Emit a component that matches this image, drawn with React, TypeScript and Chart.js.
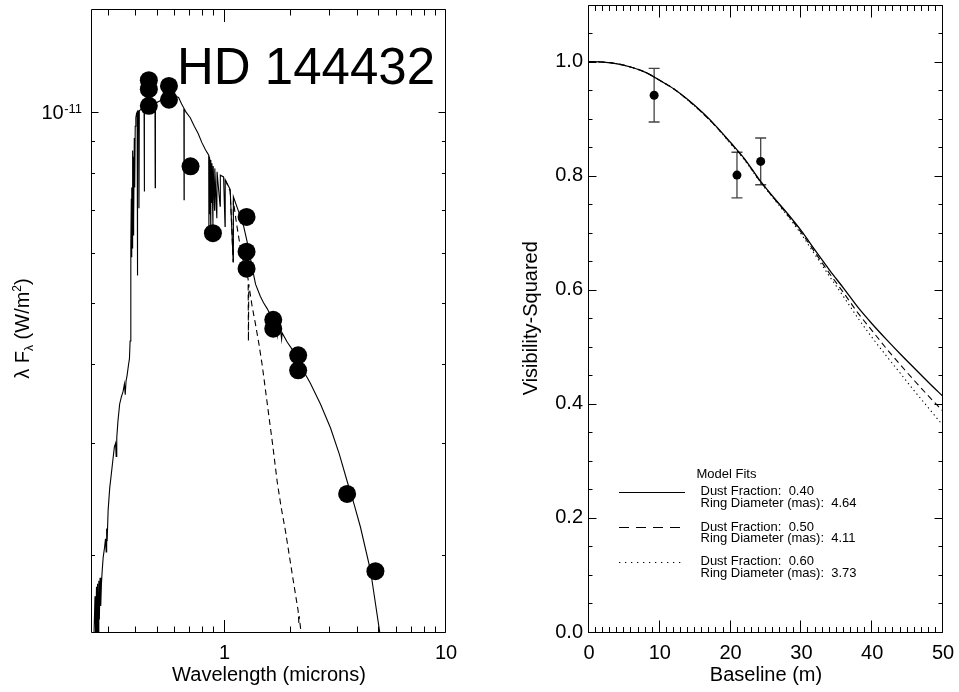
import React, { useEffect, useRef } from 'react';
import { Chart, registerables } from 'chart.js';

Chart.register(...registerables);

const FONT = "'Liberation Sans', Arial, Helvetica, sans-serif";

// ---------------- Left panel: SED of HD 144432 ----------------
const sedTitle = 'HD 144432';
const sedXTitle = 'Wavelength (microns)';

// photometry (microns, W/m^2)
const photWavelength = [0.455, 0.455, 0.455, 0.561, 0.561, 0.702, 0.886, 1.257, 1.257, 1.257, 1.659, 1.659, 2.15, 2.15, 3.577, 4.8];
const photFlux = [1.123e-11, 1.087e-11, 1.023e-11, 1.1e-11, 1.046e-11, 8.21e-12, 6.44e-12, 6.83e-12, 6.02e-12, 5.66e-12, 4.7e-12, 4.55e-12, 4.13e-12, 3.91e-12, 2.495e-12, 1.884e-12];

// total model SED (star + dust)
const modelWavelength = [
  0.256, 0.26, 0.262, 0.264, 0.2655, 0.267, 0.269, 0.2705, 0.272, 0.274, 0.276, 0.278, 0.28, 0.283, 0.287,
  0.29, 0.292, 0.2935, 0.295, 0.298, 0.303, 0.308, 0.313, 0.318, 0.322, 0.324, 0.326, 0.33, 0.336, 0.342,
  0.348, 0.353, 0.356, 0.359, 0.363, 0.368, 0.372, 0.3745, 0.3767, 0.378, 0.3792, 0.3803, 0.3816, 0.383,
  0.3845, 0.386, 0.3878, 0.3893, 0.3912, 0.393, 0.395, 0.3975, 0.4005, 0.403, 0.404, 0.4052, 0.409, 0.4107,
  0.4122, 0.425, 0.433, 0.434, 0.4352, 0.46, 0.485, 0.4861, 0.4873, 0.52, 0.56, 0.595, 0.62, 0.64, 0.655,
  0.6563, 0.6576, 0.67, 0.7, 0.73, 0.76, 0.79, 0.82, 0.84, 0.848, 0.8498, 0.8515, 0.8542, 0.856, 0.86,
  0.8662, 0.868, 0.875, 0.877, 0.8863, 0.8885, 0.9015, 0.9035, 0.9229, 0.925, 0.9546, 0.957, 0.99, 1.0049,
  1.007, 1.06, 1.0938, 1.096, 1.16, 1.22, 1.27, 1.2818, 1.284, 1.33, 1.38, 1.45, 1.5, 1.56, 1.61, 1.68, 1.7,
  1.71, 1.736, 1.745, 1.79, 1.81, 1.82, 1.92, 2.05, 2.15, 2.1661, 2.17, 2.35, 2.44, 2.71, 3.01, 3.3, 3.58,
  3.85, 4.11, 4.56, 5.02, 5.2,
];
const modelFlux = [
  1.4e-12, 1.72e-12, 1.45e-12, 1.78e-12, 1.46e-12, 1.8e-12, 1.5e-12, 1.82e-12, 1.58e-12, 1.84e-12, 1.66e-12, 1.8e-12, 1.88e-12, 1.98e-12, 2.05e-12,
  2.12e-12, 2.02e-12, 2.2e-12, 2.1e-12, 2.35e-12, 2.55e-12, 2.68e-12, 2.82e-12, 2.96e-12, 3.0e-12, 2.86e-12, 3.06e-12, 3.25e-12, 3.46e-12, 3.55e-12,
  3.62e-12, 3.72e-12, 3.58e-12, 3.76e-12, 3.84e-12, 3.98e-12, 4.08e-12, 4.35e-12, 5.0e-12, 6.2e-12, 7.3e-12, 5.9e-12, 7.6e-12, 6.1e-12,
  8.7e-12, 6.4e-12, 8.5e-12, 6.7e-12, 9.1e-12, 7.6e-12, 9.5e-12, 9.8e-12, 9.95e-12, 1.0e-11, 5.52e-12, 1.002e-11, 1.004e-11, 7.05e-12,
  1.006e-11, 1.012e-11, 1.015e-11, 7.49e-12, 1.016e-11, 1.025e-11, 1.032e-11, 7.6e-12, 1.033e-11, 1.045e-11, 1.055e-11, 1.06e-11, 1.055e-11, 1.03e-11, 1.015e-11,
  7.27e-12, 1.012e-11, 1.0e-11, 9.8e-12, 9.5e-12, 9.25e-12, 8.95e-12, 8.72e-12, 8.6e-12, 8.55e-12, 6.4e-12, 8.5e-12, 6.9e-12, 8.45e-12, 8.4e-12,
  6.3e-12, 8.35e-12, 7.2e-12, 8.3e-12, 6.6e-12, 8.22e-12, 7.0e-12, 8.15e-12, 6.8e-12, 8.05e-12, 7.1e-12, 7.95e-12, 7.9e-12, 6.6e-12,
  7.82e-12, 7.55e-12, 5.8e-12, 7.35e-12, 6.95e-12, 6.6e-12, 6.2e-12, 5.7e-12, 6.1e-12, 5.7e-12, 5.35e-12, 5.12e-12, 5.0e-12, 4.89e-12, 4.78e-12, 4.65e-12, 4.48e-12,
  4.62e-12, 4.45e-12, 4.58e-12, 4.52e-12, 4.38e-12, 4.48e-12, 4.33e-12, 4.19e-12, 4.03e-12, 3.92e-12, 4.01e-12, 3.82e-12, 3.73e-12, 3.46e-12, 3.17e-12, 2.88e-12, 2.61e-12,
  2.4e-12, 2.21e-12, 1.89e-12, 1.51e-12, 1.4e-12,
];

// stellar photosphere alone
const starWavelength = [1.007, 1.06, 1.0938, 1.096, 1.13, 1.18, 1.23, 1.278, 1.2818, 1.286, 1.33, 1.38, 1.43, 1.48, 1.584, 1.65, 1.728, 1.8, 1.884, 2.02, 2.15, 2.1661, 2.172, 2.214, 2.26];
const starFlux = [7.82e-12, 7.5e-12, 5.8e-12, 7.25e-12, 6.7e-12, 6.1e-12, 5.7e-12, 5.45e-12, 4.35e-12, 5.35e-12, 4.95e-12, 4.62e-12, 4.3e-12, 3.98e-12, 3.32e-12, 2.98e-12, 2.61e-12, 2.38e-12, 2.18e-12, 1.866e-12, 1.63e-12, 1.56e-12, 1.6e-12, 1.51e-12, 1.44e-12];

const sedXMajor = [1, 10];
const sedXTicks = [0.3, 0.4, 0.5, 0.6, 0.7, 0.8, 0.9, 1, 2, 3, 4, 5, 6, 7, 8, 9, 10];
const sedYMajor = [1e-11];
const sedYTicks = [2e-12, 3e-12, 4e-12, 5e-12, 6e-12, 7e-12, 8e-12, 9e-12, 1e-11];
const sedYLabelBase = '10';
const sedYLabelExp = '-11';

// ---------------- Right panel: visibility-squared ----------------
const v2XTitle = 'Baseline (m)';
const v2YTitle = 'Visibility-Squared';

const v2Baseline = [0, 2, 4, 6, 8, 10, 12, 14, 16, 18, 20, 22, 24, 26, 28, 30, 32, 34, 36, 38, 40, 42, 44, 46, 48, 50];
const v2ModelSolid = [1.0, 0.999, 0.996, 0.99, 0.981, 0.967, 0.952, 0.933, 0.911, 0.886, 0.858, 0.829, 0.794, 0.763, 0.734, 0.703, 0.668, 0.634, 0.602, 0.569, 0.54, 0.513, 0.487, 0.462, 0.437, 0.413];
const v2ModelDashed = [1.0, 0.999, 0.996, 0.99, 0.981, 0.967, 0.952, 0.932, 0.91, 0.885, 0.857, 0.828, 0.793, 0.762, 0.732, 0.7, 0.664, 0.628, 0.594, 0.559, 0.528, 0.497, 0.468, 0.44, 0.413, 0.387];
const v2ModelDotted = [1.0, 0.999, 0.996, 0.99, 0.981, 0.967, 0.952, 0.932, 0.91, 0.885, 0.856, 0.827, 0.792, 0.761, 0.73, 0.697, 0.66, 0.623, 0.587, 0.55, 0.516, 0.484, 0.453, 0.422, 0.392, 0.362];

const obsBaseline = [9.2, 20.9, 24.25];
const obsV2 = [0.941, 0.801, 0.825];
const obsErr = [0.047, 0.04, 0.041];

const legendTitle = 'Model Fits';
const legendDustFraction = ['0.40', '0.50', '0.60'];
const legendRingDiameter = ['4.64', '4.11', '3.73'];

const v2XMajor = [0, 10, 20, 30, 40, 50];
const v2XTicks = Array.from({ length: 51 }, (_, i) => i);
const v2YMajor = [0, 0.2, 0.4, 0.6, 0.8, 1.0];
const v2YTicks = Array.from({ length: 23 }, (_, i) => Number((i * 0.05).toFixed(2)));

// ---------------- helpers ----------------
type Frame = {
  xTicks: number[]; xMajor: number[]; yTicks: number[]; yMajor: number[];
  xLen: [number, number]; yLen: [number, number];
};

function framePlugin(frame: Frame) {
  return {
    id: 'idlFrame',
    afterDatasetsDraw(chart: any) {
      const { ctx, chartArea: a, scales } = chart;
      const xs = scales.x;
      const ys = scales.y;
      const L = Math.round(a.left) - 0.5;
      const R = Math.round(a.right) - 0.5;
      const T = Math.round(a.top) + 0.5;
      const B = Math.round(a.bottom) + 0.5;
      ctx.save();
      ctx.strokeStyle = '#000';
      ctx.lineWidth = 1;
      ctx.beginPath();
      ctx.rect(L, T, R - L, B - T);
      frame.xTicks.forEach((v) => {
        const len = frame.xMajor.includes(v) ? frame.xLen[0] : frame.xLen[1];
        const px = Math.round(xs.getPixelForValue(v)) - 0.5;
        ctx.moveTo(px, B);
        ctx.lineTo(px, B - len);
        ctx.moveTo(px, T);
        ctx.lineTo(px, T + len);
      });
      frame.yTicks.forEach((v) => {
        const len = frame.yMajor.includes(v) ? frame.yLen[0] : frame.yLen[1];
        const py = Math.round(ys.getPixelForValue(v)) + 0.5;
        ctx.moveTo(L, py);
        ctx.lineTo(L + len, py);
        ctx.moveTo(R, py);
        ctx.lineTo(R - len, py);
      });
      ctx.stroke();
      ctx.restore();
    },
  };
}

const sedTextPlugin = {
  id: 'sedText',
  afterDraw(chart: any) {
    const { ctx, scales, chartArea: a } = chart;
    ctx.save();
    ctx.fillStyle = '#000';
    // big star name
    ctx.font = `51px ${FONT}`;
    ctx.textAlign = 'left';
    ctx.textBaseline = 'alphabetic';
    ctx.fillText(sedTitle, 177, 83.5);

    // y tick label 10^-11
    const yp = scales.y.getPixelForValue(sedYMajor[0]);
    ctx.font = `13px ${FONT}`;
    const supW = ctx.measureText(sedYLabelExp).width;
    const rightEdge = a.left - 10;
    ctx.fillText(sedYLabelExp, rightEdge - supW, yp + 1);
    ctx.font = `20px ${FONT}`;
    ctx.textAlign = 'right';
    ctx.fillText(sedYLabelBase, rightEdge - supW - 0.5, yp + 7);

    // y axis title: λ F_λ (W/m²)
    const pieces = [
      { t: 'λ F', s: 20, dy: 0 },
      { t: 'λ', s: 12, dy: 4 },
      { t: ' (W/m', s: 20, dy: 0 },
      { t: '2', s: 12, dy: -8 },
      { t: ')', s: 20, dy: 0 },
    ];
    let total = 0;
    pieces.forEach((p) => {
      ctx.font = `${p.s}px ${FONT}`;
      total += ctx.measureText(p.t).width;
    });
    ctx.translate(22, (a.top + a.bottom) / 2 + 8);
    ctx.rotate(-Math.PI / 2);
    ctx.textAlign = 'left';
    let x = -total / 2;
    pieces.forEach((p) => {
      ctx.font = `${p.s}px ${FONT}`;
      ctx.fillText(p.t, x, 7 + p.dy);
      x += ctx.measureText(p.t).width;
    });
    ctx.restore();
  },
};

const errorBarPlugin = {
  id: 'errorBars',
  beforeDatasetsDraw(chart: any) {
    const { ctx, scales } = chart;
    ctx.save();
    ctx.strokeStyle = '#444';
    ctx.lineWidth = 1.3;
    ctx.beginPath();
    obsBaseline.forEach((b, i) => {
      const px = scales.x.getPixelForValue(b);
      const top = scales.y.getPixelForValue(obsV2[i] + obsErr[i]);
      const bot = scales.y.getPixelForValue(obsV2[i] - obsErr[i]);
      ctx.moveTo(px, top);
      ctx.lineTo(px, bot);
      ctx.moveTo(px - 5.5, top);
      ctx.lineTo(px + 5.5, top);
      ctx.moveTo(px - 5.5, bot);
      ctx.lineTo(px + 5.5, bot);
    });
    ctx.stroke();
    ctx.restore();
  },
};

const legendPlugin = {
  id: 'v2Legend',
  afterDraw(chart: any) {
    const { ctx } = chart;
    const ox = 500; // canvas offset in page
    ctx.save();
    ctx.fillStyle = '#000';
    ctx.strokeStyle = '#000';
    ctx.font = `13px ${FONT}`;
    ctx.textBaseline = 'middle';
    ctx.textAlign = 'left';
    ctx.fillText(legendTitle, 696.5 - ox, 474);
    const rows = [491.7, 527.3, 561.5];
    const dashes = [[], [10, 7], [1.3, 4.7]];
    rows.forEach((y, i) => {
      ctx.beginPath();
      ctx.lineWidth = 1.2;
      ctx.setLineDash(dashes[i]);
      ctx.moveTo(619 - ox, Math.round(y) + 0.5);
      ctx.lineTo(685 - ox, Math.round(y) + 0.5);
      ctx.stroke();
      ctx.setLineDash([]);
      ctx.fillText(`Dust Fraction:  ${legendDustFraction[i]}`, 700.5 - ox, y);
      ctx.fillText(`Ring Diameter (mas):  ${legendRingDiameter[i]}`, 700.5 - ox, y + 11.5);
    });
    ctx.restore();
  },
};

function pts(xs: number[], ys: number[]) {
  return xs.map((x, i) => ({ x, y: ys[i] }));
}

const tickFont = { family: FONT, size: 20 };

function noEdgePadding(ax: any) {
  ax.paddingTop = 0;
  ax.paddingBottom = 0;
  ax.paddingLeft = 0;
  ax.paddingRight = 0;
}

export default function App() {
  const leftRef = useRef<HTMLCanvasElement>(null);
  const rightRef = useRef<HTMLCanvasElement>(null);

  useEffect(() => {
    const left = new Chart(leftRef.current as HTMLCanvasElement, {
      type: 'scatter',
      data: {
        datasets: [
          {
            data: pts(modelWavelength, modelFlux),
            showLine: true,
            borderColor: '#000',
            borderWidth: 1.1,
            pointRadius: 0,
            tension: 0,
          },
          {
            data: pts(starWavelength, starFlux),
            showLine: true,
            borderColor: '#000',
            borderWidth: 1.1,
            borderDash: [6, 4],
            pointRadius: 0,
            tension: 0,
          },
          {
            data: pts(photWavelength, photFlux),
            showLine: false,
            pointRadius: 9,
            pointBorderWidth: 0,
            backgroundColor: '#000',
            borderColor: '#000',
          },
        ],
      },
      options: {
        animation: false,
        responsive: false,
        maintainAspectRatio: false,
        events: [],
        layout: { padding: { top: 4, right: 24, left: 0, bottom: 0 } },
        plugins: { legend: { display: false }, tooltip: { enabled: false } },
        scales: {
          x: {
            type: 'logarithmic',
            min: 0.252,
            max: 10,
            grid: { display: false, drawTicks: false },
            border: { display: false },
            ticks: {
              color: '#000',
              font: tickFont,
              padding: 9,
              autoSkip: false,
              maxRotation: 0,
              minRotation: 0,
              callback: (v: any) => String(v),
            },
            afterBuildTicks: (ax: any) => {
              ax.ticks = sedXMajor.map((v) => ({ value: v }));
            },
            afterFit: (ax: any) => {
              ax.height = 60;
              noEdgePadding(ax);
            },
            title: {
              display: true,
              text: sedXTitle,
              color: '#000',
              font: tickFont,
              padding: { top: 0, bottom: 5 },
            },
          },
          y: {
            type: 'logarithmic',
            min: 1.51e-12,
            max: 1.455e-11,
            grid: { display: false, drawTicks: false },
            border: { display: false },
            ticks: { display: false },
            afterFit: (ax: any) => {
              ax.width = 92;
              noEdgePadding(ax);
            },
          },
        },
      } as any,
      plugins: [
        framePlugin({ xTicks: sedXTicks, xMajor: sedXMajor, yTicks: sedYTicks, yMajor: sedYMajor, xLen: [12.5, 6], yLen: [7, 3.5] }),
        sedTextPlugin,
      ],
    });

    const right = new Chart(rightRef.current as HTMLCanvasElement, {
      type: 'scatter',
      data: {
        datasets: [
          {
            data: pts(v2Baseline, v2ModelSolid),
            showLine: true,
            borderColor: '#000',
            borderWidth: 1.3,
            pointRadius: 0,
            cubicInterpolationMode: 'monotone',
          },
          {
            data: pts(v2Baseline, v2ModelDashed),
            showLine: true,
            borderColor: '#000',
            borderWidth: 1.1,
            borderDash: [6, 4],
            pointRadius: 0,
            cubicInterpolationMode: 'monotone',
          },
          {
            data: pts(v2Baseline, v2ModelDotted),
            showLine: true,
            borderColor: '#000',
            borderWidth: 1.1,
            borderDash: [1.3, 3.2],
            pointRadius: 0,
            cubicInterpolationMode: 'monotone',
          },
          {
            data: pts(obsBaseline, obsV2),
            showLine: false,
            pointRadius: 4.5,
            pointBorderWidth: 0,
            backgroundColor: '#000',
            borderColor: '#000',
          },
        ],
      },
      options: {
        animation: false,
        responsive: false,
        maintainAspectRatio: false,
        events: [],
        layout: { padding: { top: 4, right: 16, left: 0, bottom: 0 } },
        plugins: { legend: { display: false }, tooltip: { enabled: false } },
        scales: {
          x: {
            type: 'linear',
            min: 0,
            max: 50,
            grid: { display: false, drawTicks: false },
            border: { display: false },
            ticks: {
              color: '#000',
              font: tickFont,
              padding: 9,
              autoSkip: false,
              maxRotation: 0,
              minRotation: 0,
              callback: (v: any) => String(v),
            },
            afterBuildTicks: (ax: any) => {
              ax.ticks = v2XMajor.map((v) => ({ value: v }));
            },
            afterFit: (ax: any) => {
              ax.height = 60;
              noEdgePadding(ax);
            },
            title: {
              display: true,
              text: v2XTitle,
              color: '#000',
              font: tickFont,
              padding: { top: 0, bottom: 5 },
            },
          },
          y: {
            type: 'linear',
            min: 0,
            max: 1.1,
            grid: { display: false, drawTicks: false },
            border: { display: false },
            ticks: {
              color: '#000',
              font: tickFont,
              padding: 6,
              autoSkip: false,
              callback: (v: any) => Number(v).toFixed(1),
            },
            afterBuildTicks: (ax: any) => {
              ax.ticks = v2YMajor.map((v) => ({ value: v }));
            },
            afterFit: (ax: any) => {
              ax.width = 89;
              noEdgePadding(ax);
            },
            title: {
              display: true,
              text: v2YTitle,
              color: '#000',
              font: tickFont,
              padding: { top: 19, bottom: 0 },
            },
          },
        },
      } as any,
      plugins: [
        errorBarPlugin,
        framePlugin({ xTicks: v2XTicks, xMajor: v2XMajor, yTicks: v2YTicks, yMajor: v2YMajor, xLen: [12, 5.5], yLen: [8, 4] }),
        legendPlugin,
      ],
    });

    return () => {
      left.destroy();
      right.destroy();
    };
  }, []);

  return (
    <div style={{ position: 'fixed', left: 0, top: 0, width: 959, height: 692, background: '#fff', overflow: 'hidden' }}>
      <canvas ref={leftRef} width={470} height={692} style={{ position: 'absolute', left: 0, top: 0, width: 470, height: 692 }} />
      <canvas ref={rightRef} width={459} height={692} style={{ position: 'absolute', left: 500, top: 0, width: 459, height: 692 }} />
    </div>
  );
}
